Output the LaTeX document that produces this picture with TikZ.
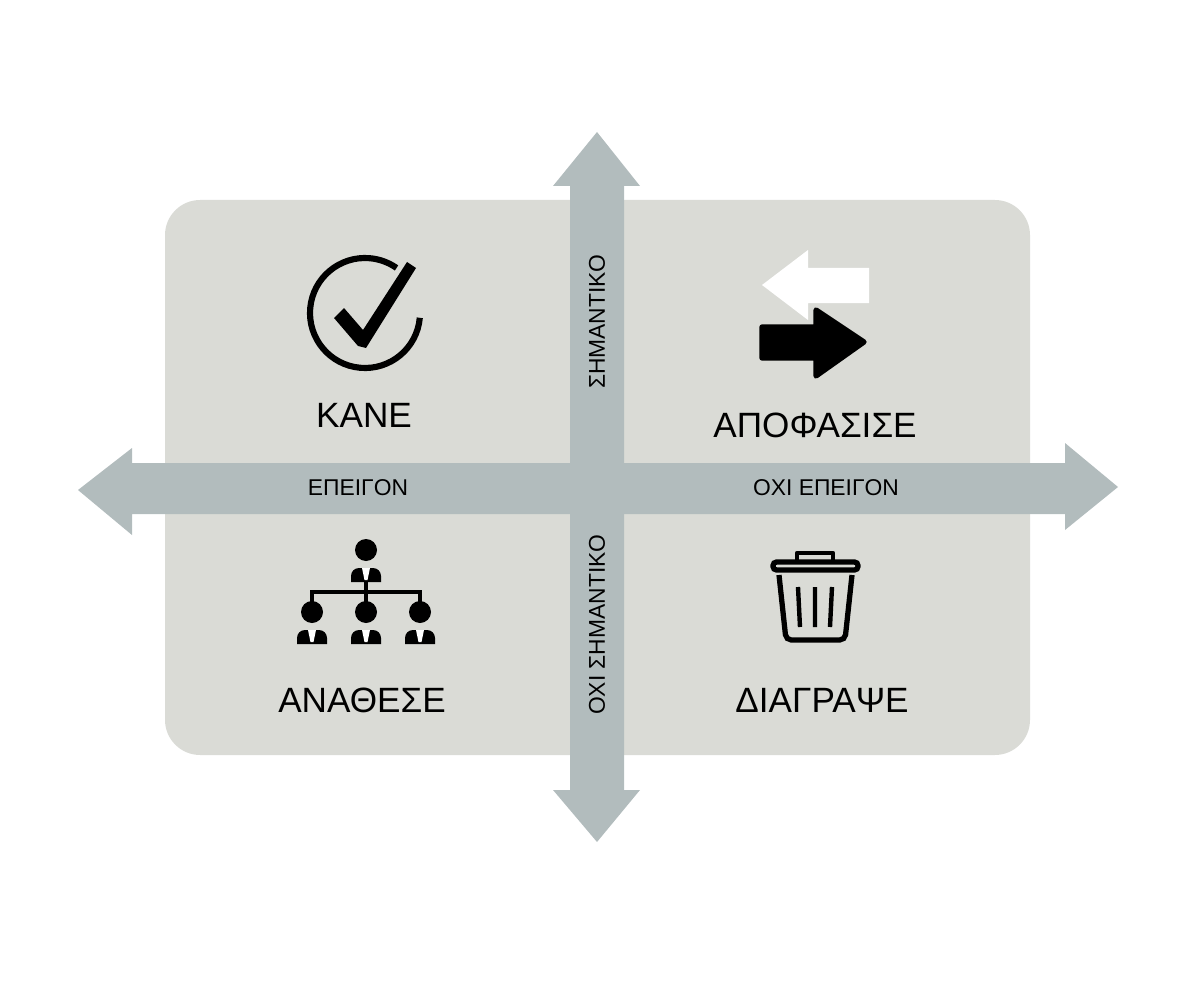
\documentclass[tikz,border=0pt]{standalone}
\usepackage{fontspec}
\setmainfont{Liberation Sans}
\definecolor{panel}{HTML}{DADBD6}
\definecolor{axis}{HTML}{B2BCBD}
\tikzset{
 big/.style={font=\fontsize{20}{24}\selectfont},
 small/.style={font=\fontsize{13}{16}\selectfont},
 person/.pic={\fill(0,0)circle(11);
   \fill(-15,32)--(-15,26)arc(180:270:8)--(7,18)arc(270:360:8)--(15,32)--cycle;
   \fill[white](-4,18)--(4,18)--(1.5,30)--(-1.5,30)--cycle;}
}
\begin{document}
\begin{tikzpicture}[x=0.02cm,y=-0.02cm]
\useasboundingbox(0,0)rectangle(1200,1000);
\fill[panel,rounded corners=20pt](165,200)rectangle(1030,755);
% axes
\fill[axis](597,132)--(640,186)--(624,186)--(624,790)--(640,790)--(597,842)--(553,790)--(570,790)--(570,186)--(553,186)--cycle;
\fill[axis](78,490)--(132,448)--(132,463)--(1065,463)--(1065,443)--(1118,487)--(1065,530)--(1065,514)--(132,514)--(132,535)--cycle;
\node[small,rotate=90](s) at (597,322){ΣΗΜΑΝΤΙΚΟ};
\node[small,rotate=90](os) at (597,625){ΟΧΙ ΣΗΜΑΝΤΙΚΟ};
\node[small](e) at (358,488){ΕΠΕΙΓΟΝ};
\node[small](oe) at (826,488){ΟΧΙ ΕΠΕΙΓΟΝ};
% labels
\node[big](do) at (364,415){ΚΑΝΕ};
\node[big](dec) at (815,425){ΑΠΟΦΑΣΙΣΕ};
\node[big](del) at (362,700){ΑΝΑΘΕΣΕ};
\node[big](tr) at (822,700){ΔΙΑΓΡΑΨΕ};
% check icon
\draw[line width=3.5pt](365,313)++(5:55)arc(5:305:55);
\fill(334,318)--(344,308)--(363,330)--(407,262)--(416,268)--(366,348)--(358,346)--cycle;
% swap arrows
\fill[white](762,285)--(808,250)--(808,268)--(869,268)--(869,303)--(808,303)--(808,320)--cycle;
\draw[black,line width=3pt,line join=round,fill=black](762,327)--(816,327)--(816,310)--(864,342)--(816,376)--(816,358)--(762,358)--cycle;
% org chart
\pic at (366,550){person};
\pic at (312,612){person};
\pic at (366,612){person};
\pic at (420,612){person};
\draw[line width=2.5pt](366,582)--(366,600)(312,602)--(312,592)--(420,592)--(420,602)(366,592)--(366,602);
% trash
\draw[line width=2.5pt,line join=round](797,562)--(797,553)--(833,553)--(833,562);
\draw[line width=3pt,rounded corners=2pt](773,562)rectangle(858,570);
\draw[line width=3pt,rounded corners=3pt](779,575)--(786,640)--(845,640)--(852,575);
\draw[line width=2.5pt](798,587)--(800,627)(815,587)--(815,627)(832,587)--(830,627);
\end{tikzpicture}
\end{document}
